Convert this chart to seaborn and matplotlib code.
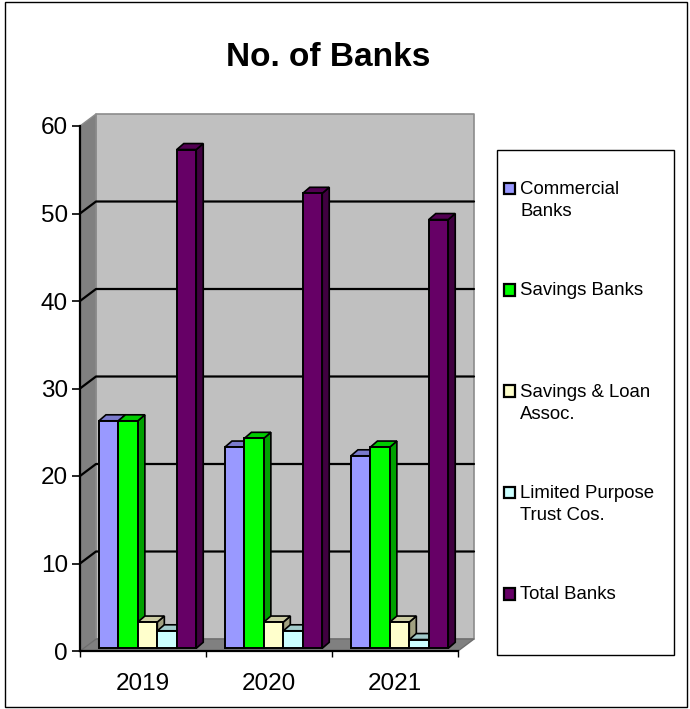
import matplotlib
matplotlib.use("Agg")
import matplotlib.pyplot as plt
from matplotlib.patches import Polygon, Rectangle
from matplotlib.colors import to_rgb
import pandas as pd
import seaborn as sns

YEARS = ["2019", "2020", "2021"]
SERIES = ["Commercial Banks", "Savings Banks", "Savings & Loan Assoc.",
          "Limited Purpose Trust Cos.", "Total Banks"]
LEGEND_LABELS = ["Commercial\nBanks", "Savings Banks\n", "Savings & Loan\nAssoc.",
                 "Limited Purpose\nTrust Cos.", "Total Banks\n"]
COMMERCIAL = [26, 23, 22]
SAVINGS = [26, 24, 23]
SAVINGS_LOAN = [3, 3, 3]
TRUST = [2, 2, 1]
TOTAL = [57, 52, 49]
COLORS = ["#9999FF", "#00FF00", "#FFFFCC", "#CCFFFF", "#660066"]
TITLE = "No. of Banks"

W, H = 690, 709
sns.set_style("white")
plt.rcParams["font.family"] = ["Liberation Sans", "DejaVu Sans"]

df = pd.DataFrame({
    "Year": YEARS * 5,
    "Series": [s for s in SERIES for _ in YEARS],
    "Count": COMMERCIAL + SAVINGS + SAVINGS_LOAN + TRUST + TOTAL,
})

fig = plt.figure(figsize=(W / 100, H / 100), dpi=100)
fig.patch.set_facecolor("white")

def fig_rect(x0, y0, x1, y1, **kw):
    fig.add_artist(Rectangle((x0 / W, 1 - y1 / H), (x1 - x0) / W, (y1 - y0) / H,
                             transform=fig.transFigure, **kw))

fig_rect(4.5, 1.5, 686.5, 707, fc="white", ec="black", lw=1.0, zorder=-5)

ax_l, ax_r, ax_t, ax_b = 80, 458, 126, 651
ax = fig.add_axes([ax_l / W, 1 - ax_b / H, (ax_r - ax_l) / W, (ax_b - ax_t) / H])
ax.patch.set_alpha(0)

sns.barplot(data=df, x="Year", y="Count", hue="Series", hue_order=SERIES, order=YEARS,
            palette=COLORS, width=0.772, gap=0, saturation=1, errorbar=None,
            edgecolor="black", linewidth=1.4, ax=ax, zorder=5, legend=False)
ax.set_xlim(-0.5, 2.5)
ax.set_ylim(0, 60)
ax.set_xlabel("")
ax.set_ylabel("")

ux = 3 / (ax_r - ax_l)     # data units per pixel, x
uy = 60 / (ax_b - ax_t)    # data units per pixel, y

# 3-D walls and floor
WALL_DX, WALL_DY = 16 * ux, 12 * uy
x0, x1, y0, y1 = -0.5, 2.5, 0, 60
def poly(pts, fc, ec="none", lw=0, z=1):
    ax.add_patch(Polygon(pts, closed=True, fc=fc, ec=ec, lw=lw, zorder=z,
                         clip_on=False, joinstyle="round"))
poly([(x0 + WALL_DX, y0 + WALL_DY), (x1 + WALL_DX, y0 + WALL_DY),
      (x1 + WALL_DX, y1 + WALL_DY), (x0 + WALL_DX, y1 + WALL_DY)],
     "#C0C0C0", ec="#8c8c8c", lw=1.2)
poly([(x0, y0), (x0 + WALL_DX, y0 + WALL_DY), (x0 + WALL_DX, y1 + WALL_DY), (x0, y1)],
     "#808080", ec="#8c8c8c", lw=1.0)
poly([(x0, y0), (x1, y0), (x1 + WALL_DX, y0 + WALL_DY), (x0 + WALL_DX, y0 + WALL_DY)],
     "#808080", ec="#6e6e6e", lw=1.0)

for v in range(10, 60, 10):
    ax.plot([x0, x0 + WALL_DX, x1 + WALL_DX],
            [v, v + WALL_DY, v + WALL_DY],
            color="black", lw=1.6, zorder=2, clip_on=False)

# 3-D bars
OFF_X, OFF_Y = 4.6 * ux, 2.7 * uy
BAR_DX, BAR_DY = 7 * ux, 6 * uy
def shade(c, f):
    return tuple(v * f for v in to_rgb(c))

z = 5
for year_idx in range(len(YEARS)):
    for s_idx, cont in enumerate(ax.containers):
        bar = cont.patches[year_idx]
        bx, bw, bh = bar.get_x() + OFF_X, bar.get_width(), bar.get_height()
        by = OFF_Y
        bar.set_x(bx)
        bar.set_y(by)
        bar.set_clip_on(False)
        bar.set_zorder(z + 0.2)
        c = COLORS[s_idx]
        top = by + bh
        ax.add_patch(Polygon([(bx + bw, by), (bx + bw + BAR_DX, by + BAR_DY),
                              (bx + bw + BAR_DX, top + BAR_DY), (bx + bw, top)],
                             fc=shade(c, 0.63), ec="black", lw=1.2, zorder=z, clip_on=False))
        ax.add_patch(Polygon([(bx, top), (bx + bw, top), (bx + bw + BAR_DX, top + BAR_DY),
                              (bx + BAR_DX, top + BAR_DY)],
                             fc=shade(c, 0.8), ec="black", lw=1.2, zorder=z, clip_on=False))
        z += 1

# axes and ticks
sns.despine(ax=ax, top=True, right=True)
for sp in ("left", "bottom"):
    ax.spines[sp].set_linewidth(1.6)
    ax.spines[sp].set_color("black")
    ax.spines[sp].set_zorder(3)
ax.set_yticks(range(0, 61, 10))
ax.set_xticks([0, 1, 2])
ax.set_xticklabels(YEARS)
ax.set_xticks([-0.5, 0.5, 1.5, 2.5], minor=True)
ax.tick_params(axis="y", which="major", left=True, length=5.8, width=1.2, labelsize=17.5,
               pad=3, color="black", labelcolor="black")
ax.tick_params(axis="x", which="major", bottom=False, length=0, labelsize=17.5, pad=15.5,
               labelcolor="black")
ax.tick_params(axis="x", which="minor", bottom=True, length=4.5, width=1.0, color="black")

# title
fig.text(328 / W, 1 - 57 / H, TITLE, ha="center", va="center", fontsize=24,
         fontweight="bold", color="black")

# legend
fig_rect(497, 150, 674, 655, fc="white", ec="black", lw=1.0, zorder=10)
handles = [Rectangle((0, 0), 1, 1, fc=c, ec="black", lw=1.6) for c in COLORS]
leg = fig.legend(handles, LEGEND_LABELS, loc="upper left",
                 bbox_to_anchor=(504 / W, 1 - 181 / H), bbox_transform=fig.transFigure,
                 frameon=False, fontsize=13.4, labelspacing=3.34, handlelength=0.58,
                 handleheight=0.58, handletextpad=0.3, borderpad=0, borderaxespad=0)
leg.set_zorder(11)
for t in leg.get_texts():
    t.set_linespacing(1.4)
    t.set_color("black")
for h in leg.legend_handles:
    h.set_y(h.get_y() + 12 * 72 / 100)

fig.savefig("out.png", dpi=100)
